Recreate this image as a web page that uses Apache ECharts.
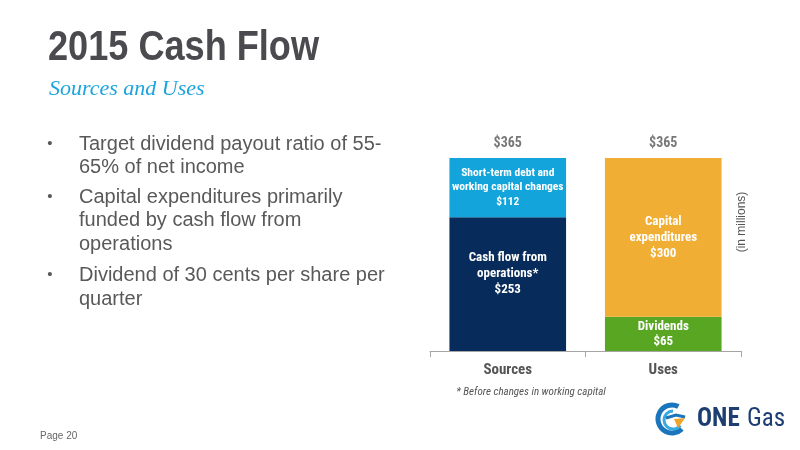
<!DOCTYPE html>
<html><head><meta charset="utf-8">
<script src="https://cdn.jsdelivr.net/npm/echarts@6/dist/echarts.min.js"></script>
<style>html,body{margin:0;padding:0;background:#fff}#c{width:800px;height:450px}</style>
</head><body><div id="c"></div>
<script>
// ---- data ----
const categories = ['Sources', 'Uses'];
const bottomNames = ['Cash flow from\noperations*', 'Dividends'];
const bottomValues = [253, 65];
const topNames = ['Short-term debt and\nworking capital changes', 'Capital\nexpenditures'];
const topValues = [112, 300];
const totalValues = [365, 365];
const bullets = [
  ['Target dividend payout ratio of 55-', '65% of net income'],
  ['Capital expenditures primarily', 'funded by cash flow from', 'operations'],
  ['Dividend of 30 cents per share per', 'quarter']
];
const titleText = '2015 Cash Flow';
const subtitleText = 'Sources and Uses';
const footnoteText = '* Before changes in working capital';
const unitText = '(in millions)';
const pageText = 'Page 20';

function hasFont(name){
  const c=document.createElement('canvas').getContext('2d');
  c.font='40px monospace'; const a=c.measureText('abcdefghijklmnop').width;
  c.font='40px "'+name+'", monospace'; const b=c.measureText('abcdefghijklmnop').width;
  return a!==b;
}
const NARROW = hasFont('Liberation Sans Narrow') ? '"Liberation Sans Narrow"' : 'Roboto Condensed, "Liberation Sans"';
const SANS = '"Liberation Sans", Arial, sans-serif';

const navy='#072b5a', lblue='#12a4db', orange='#f1ae35', green='#58a622';
const bottomColors=[navy, green], topColors=[lblue, orange];

const chart = echarts.init(document.getElementById('c'));

const graphics = [];
graphics.push({type:'text', x:48, y:48, scaleX:0.86, style:{text:titleText, x:0, y:0, font:'bold 42px '+SANS, fill:'#4a4a4f', textVerticalAlign:'middle'}});
graphics.push({type:'text', style:{text:subtitleText, x:49, y:89, font:'italic 22px "Liberation Serif", "Times New Roman", serif', fill:'#1ca3dd', textVerticalAlign:'middle'}});
const lineYs = [[144,167],[197,220,244],[275,299]];
bullets.forEach((b,i)=>{
  graphics.push({type:'text', style:{text:'•', x:50, y:lineYs[i][0], font:'15px '+SANS, fill:'#595959', textAlign:'center', textVerticalAlign:'middle'}});
  b.forEach((ln,j)=>{
    graphics.push({type:'text', style:{text:ln, x:79, y:lineYs[i][j], font:'20px '+SANS, fill:'#595959', textVerticalAlign:'middle'}});
  });
});
graphics.push({type:'text', style:{text:footnoteText, x:531, y:392, font:'italic 11px '+NARROW, fill:'#555', textAlign:'center', textVerticalAlign:'middle'}});
graphics.push({type:'text', x:742, y:222, rotation:Math.PI/2, style:{text:unitText, x:0, y:0, font:'12px '+SANS, fill:'#555', textAlign:'center', textVerticalAlign:'middle'}});
graphics.push({type:'text', style:{text:pageText, x:40, y:436, font:'10px '+SANS, fill:'#666', textVerticalAlign:'middle'}});
// logo
const lx=672, ly=419;
graphics.push({type:'arc', shape:{cx:lx, cy:ly, r:14, startAngle:-0.35*Math.PI, endAngle:0.25*Math.PI, clockwise:false}, style:{stroke:'#1b75bc', lineWidth:5, fill:null}});
graphics.push({type:'arc', shape:{cx:lx+1, cy:ly+1, r:9, startAngle:-0.5*Math.PI, endAngle:0.2*Math.PI, clockwise:false}, style:{stroke:'#38a9e1', lineWidth:3, fill:null}});
graphics.push({type:'polyline', shape:{points:[[lx-6,ly-1],[lx+4,ly-4],[lx+13,ly-2]]}, style:{stroke:'#1b75bc', lineWidth:3, fill:null}});
graphics.push({type:'polygon', shape:{points:[[lx+2,ly],[lx+13,ly-1],[lx+6,ly+9]]}, style:{fill:'#f1a42b'}});
graphics.push({type:'text', style:{text:'ONE', x:697, y:420, font:'bold 25px '+NARROW, fill:'#1e3e72', textVerticalAlign:'middle'}});
graphics.push({type:'text', style:{text:'Gas', x:747, y:420, font:'25px '+NARROW, fill:'#1e3e72', textVerticalAlign:'middle'}});

const lbl = (fs, lh) => ({show:true, position:'inside', color:'#fff', fontFamily:NARROW, fontWeight:'bold', fontSize:fs, lineHeight:lh, align:'center'});

chart.setOption({
  animation:false,
  backgroundColor:'#fff',
  grid:{left:430, right:59, top:158, bottom:99},
  xAxis:{type:'category', data:categories, boundaryGap:true,
    axisLine:{lineStyle:{color:'#a6a6a6', width:1}},
    axisTick:{show:true, interval:0, length:6, lineStyle:{color:'#a6a6a6'}},
    axisLabel:{color:'#555', fontFamily:NARROW, fontWeight:'bold', fontSize:15, margin:12}},
  yAxis:{type:'value', min:0, max:365, show:false, splitLine:{show:false}},
  series:[
    {type:'bar', stack:'s', barWidth:'75%',
     data: bottomValues.map((v,i)=>({value:v, itemStyle:{color:bottomColors[i]},
       label:Object.assign(lbl(13, i===0?16:15), {formatter: bottomNames[i]+'\n$'+v, offset: i===0?[0,-10]:[0,0]})}))},
    {type:'bar', stack:'s', barWidth:'75%',
     data: topValues.map((v,i)=>({value:v, itemStyle:{color:topColors[i]},
       label:Object.assign(lbl(i===0?11.5:13, i===0?14.5:16), {formatter: topNames[i]+'\n$'+v})}))},
    {type:'scatter', symbolSize:0, data: totalValues,
     label:{show:true, position:'top', distance:8, color:'#555', fontFamily:NARROW, fontWeight:'bold', fontSize:14, formatter:p=>'$'+p.value}}
  ],
  graphic: graphics
});
</script></body></html>
